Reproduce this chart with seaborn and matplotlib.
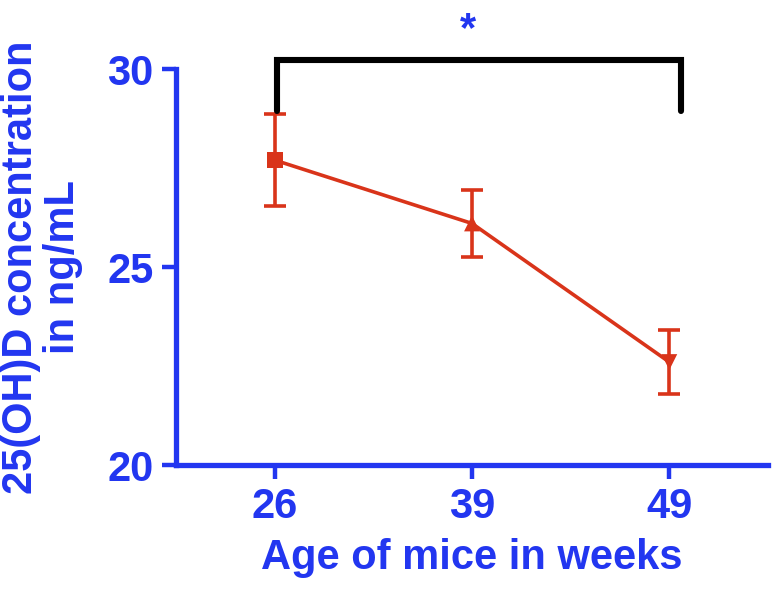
import numpy as np
import pandas as pd
import seaborn as sns
import matplotlib.pyplot as plt

# values
ages = ['26', '39', '49']
means = [27.7, 26.1, 22.6]
sems = [1.17, 0.84, 0.80]
marker_kind = ['square', 'up', 'down']
y_ticks = [20, 25, 30]

BLUE = '#2236F0'
RED = '#D9341A'

sns.set_style('ticks')
plt.rcParams['font.family'] = ['Liberation Sans', 'DejaVu Sans']
plt.rcParams['font.weight'] = 'bold'

df = pd.DataFrame({'pos': np.arange(len(ages)), 'mean': means, 'sem': sems, 'kind': marker_kind})

fig = plt.figure(figsize=(7.73, 5.92), dpi=100)
ax = fig.add_axes([0.2277, 0.2145, 0.9935 - 0.2277, 0.8834 - 0.2145])

ax.errorbar(df['pos'], df['mean'], yerr=df['sem'], fmt='none', ecolor=RED,
            elinewidth=2.6, capsize=8, capthick=2.6, zorder=2)
sns.lineplot(data=df, x='pos', y='mean', color=RED, lw=2.6, ax=ax, zorder=3)
sns.scatterplot(data=df, x='pos', y='mean', style='kind',
                markers={'square': 's', 'up': '^', 'down': 'v'},
                color=RED, s=130, edgecolor=RED, linewidth=0, legend=False, ax=ax, zorder=4)

ax.set_xlim(-0.5, 2.5)
ax.set_ylim(20, 30)
ax.set_xticks(df['pos'])
ax.set_xticklabels(ages)
ax.set_yticks(y_ticks)

sns.despine(ax=ax)
for s in ['left', 'bottom']:
    ax.spines[s].set_linewidth(3.8)
    ax.spines[s].set_color(BLUE)
ax.tick_params(axis='both', colors=BLUE, labelcolor=BLUE, width=3.2, length=10,
               labelsize=30, pad=6)

ax.set_xlabel('Age of mice in weeks', fontsize=30, fontweight='bold', color=BLUE, labelpad=8)
ax.set_ylabel('25(OH)D concentration\nin ng/mL', fontsize=30, fontweight='bold', color=BLUE,
              labelpad=18, linespacing=1.05)

# significance bracket between first and last group
bx = [0.01, 0.01, 2.06, 2.06]
by = [28.94, 30.23, 30.23, 28.94]
ax.plot(bx, by, color='black', lw=4.4, clip_on=False, solid_capstyle='round',
        solid_joinstyle='miter')
ax.text(0.98, 30.7, '*', color=BLUE, fontsize=30, fontweight='bold',
        ha='center', va='baseline', clip_on=False)

fig.savefig('out.png', dpi=100)
